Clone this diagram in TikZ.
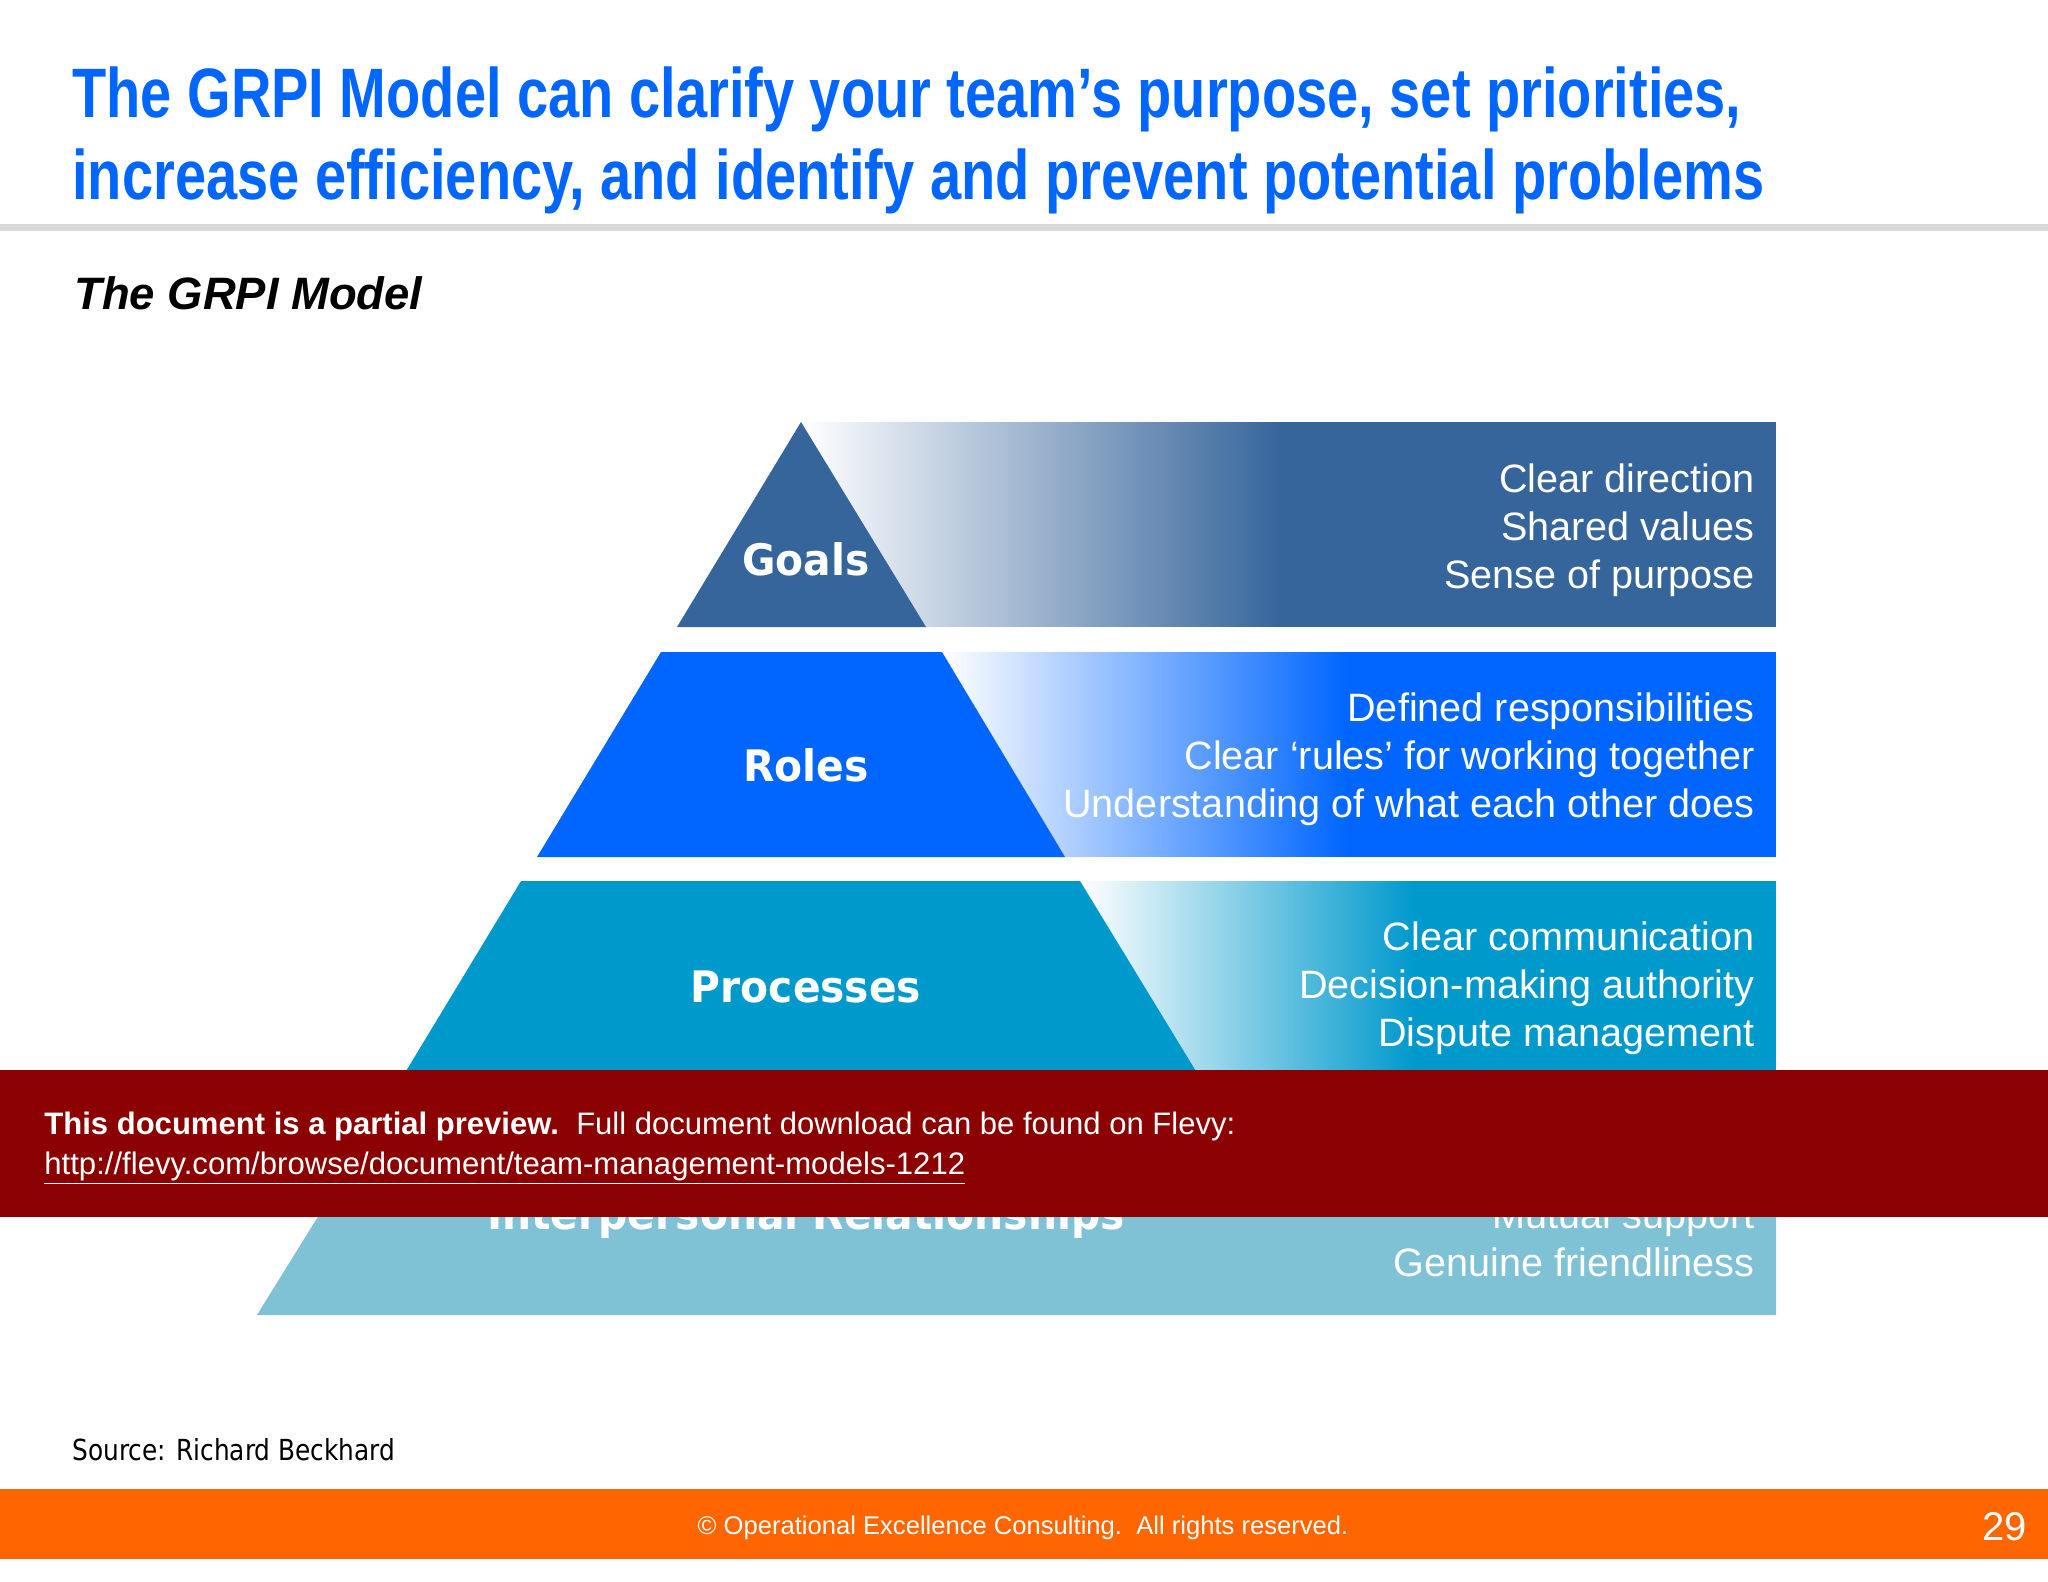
\documentclass[tikz,border=0pt]{standalone}
\usepackage{fontspec}
\setmainfont{Liberation Sans}
\newfontfamily\titlefont[FakeStretch=0.80]{Liberation Sans}
\newfontfamily\labelfont[FakeStretch=0.94]{DejaVu Sans}
\newfontfamily\sourcefont[FakeStretch=0.855]{DejaVu Sans}

\definecolor{goalsblue}{HTML}{36659B}
\definecolor{rolesblue}{HTML}{0066FF}
\definecolor{processblue}{HTML}{0099CC}
\definecolor{relationblue}{HTML}{7FC2D6}
\definecolor{bannerred}{HTML}{8B0000}
\definecolor{footerorange}{HTML}{FF6600}
\definecolor{rulegray}{HTML}{D9D9D9}

\tikzset{
    levelname/.style={text=white, font=\labelfont\bfseries\fontsize{21.7}{26}\selectfont},
    levelnotes/.style={text=white, anchor=east, align=right, inner sep=0pt, font=\fontsize{19.8}{24}\selectfont},
    headline/.style={text=rolesblue, anchor=base west, inner sep=0pt, font=\titlefont\bfseries\fontsize{35}{42}\selectfont},
}

\begin{document}
\begin{tikzpicture}[x=0.5pt, y=-0.5pt]
    % Define parameters of pyramid
    \def\ApexX{801};
    \def\ApexY{422};
    \def\RightX{1776};

    \useasboundingbox (0,0) rectangle (2048,1582);

    % Draw title
    \node[headline] (title1) at (72,118) {The GRPI Model can clarify your team’s purpose, set priorities,};
    \node[headline] (title2) at (72,200) {increase efficiency, and identify and prevent potential problems};
    \fill[rulegray] (0,224) rectangle (2048,231);
    \node[anchor=base west, inner sep=0pt, font=\bfseries\itshape\fontsize{22.7}{26}\selectfont] (subtitle) at (74,310) {The GRPI Model};

    % Draw goals band
    \fill[goalsblue] (1281,422) rectangle (\RightX,627);
    \begin{scope}
        \clip (\ApexX,423) rectangle (1282,626);
        \shade[left color=white, right color=goalsblue] (\ApexX,420) rectangle (1281,629);
    \end{scope}
    \fill[goalsblue] (\ApexX,\ApexY) -- (926,627) -- (677,627) -- cycle;
    \node[levelname] (goals) at (806,559) {Goals};
    \node[levelnotes] (goalsnotes) at (1755,530) {Clear direction\\Shared values\\Sense of purpose};

    % Draw roles band
    \fill[rolesblue] (1347,652) rectangle (\RightX,857);
    \begin{scope}
        \clip (942,652.4) rectangle (1348,856);
        \shade[left color=white, right color=rolesblue] (942,650) rectangle (1347,859);
    \end{scope}
    \fill[rolesblue] (661,652) -- (942,652) -- (1065,857) -- (537,857) -- cycle;
    \node[levelname] (roles) at (806,765) {Roles};
    \node[levelnotes] (rolesnotes) at (1755,759) {Defined responsibilities\\Clear ‘rules’ for working together\\Understanding of what each other does};

    % Draw processes band
    \fill[processblue] (1414,881) rectangle (\RightX,1086);
    \begin{scope}
        \clip (1080,881.4) rectangle (1415,1085);
        \shade[left color=white, right color=processblue] (1080,879) rectangle (1414,1088);
    \end{scope}
    \fill[processblue] (521,881) -- (1080,881) -- (1205,1086) -- (397,1086) -- cycle;
    \node[levelname] (processes) at (806,987) {Processes};
    \node[levelnotes] (processnotes) at (1755,988) {Clear communication\\Decision-making authority\\Dispute management};

    % Draw relationships band
    \fill[relationblue] (384,1110) -- (\RightX,1110) -- (\RightX,1315) -- (257,1315) -- cycle;
    \node[levelname] (relations) at (806,1218) {Interpersonal Relationships};
    \node[levelnotes] (relationnotes) at (1755,1238) {Mutual support\\Genuine friendliness};

    % Draw preview banner
    \fill[bannerred] (0,1070) rectangle (2048,1217);
    \node[anchor=base west, inner sep=0pt, text=white, font=\fontsize{15.52}{20}\selectfont] (preview) at (44,1134) {\textbf{This document is a partial preview.}\ \ Full document download can be found on Flevy:};
    \node[anchor=base west, inner sep=0pt, text=white, font=\fontsize{15.55}{20}\selectfont] (link) at (44,1174) {\underline{http://flevy.com/browse/document/team-management-models-1212}};

    % Draw source and footer
    \node[anchor=base west, inner sep=0pt, font=\sourcefont\fontsize{14.5}{18}\selectfont] (source) at (72,1460) {Source: Richard Beckhard};
    \fill[footerorange] (0,1489) rectangle (2048,1559);
    \node[text=white, inner sep=0pt, font=\fontsize{12.8}{16}\selectfont] (copyright) at (1023,1528) {© Operational Excellence Consulting.\ \ All rights reserved.};
    \node[text=white, anchor=east, inner sep=0pt, font=\fontsize{20}{24}\selectfont] (pagenum) at (2027,1527) {29};
\end{tikzpicture}
\end{document}
